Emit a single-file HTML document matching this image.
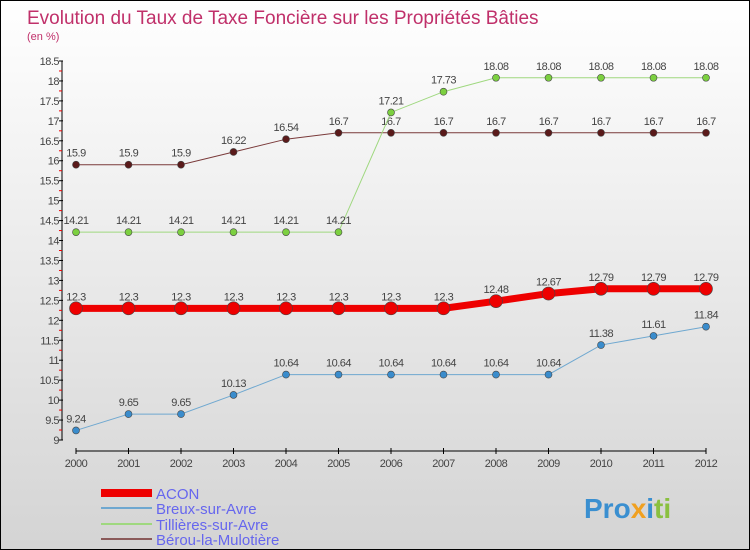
<!DOCTYPE html>
<html><head><meta charset="utf-8"><style>
body{margin:0}
#c{width:750px;height:550px;position:relative;box-sizing:border-box;border:1px solid #000;background:linear-gradient(#fff,#d4d4d4);font-family:"Liberation Sans",sans-serif;overflow:hidden}
</style></head><body>
<div id="c">
<svg id="s" width="748" height="548" style="position:absolute;left:0;top:0">
<text x="26" y="23" font-size="19" fill="#c0306a">Evolution du Taux de Taxe Foncière sur les Propriétés Bâties</text>
<text x="26" y="39" font-size="11" fill="#c0306a">(en %)</text>
<g id="ax"></g><g id="series"></g>
<g>
<rect x="100" y="488" width="51" height="8" fill="#e00"/>
<text x="155" y="498" font-size="15" fill="#6666ee">ACON</text>
<rect x="100" y="506" width="51" height="2" fill="#6fa8d0"/>
<text x="155" y="513" font-size="15" fill="#6666ee">Breux-sur-Avre</text>
<rect x="100" y="522" width="51" height="2" fill="#9fd87f"/>
<text x="155" y="529" font-size="15" fill="#6666ee">Tillières-sur-Avre</text>
<rect x="100" y="537" width="51" height="2" fill="#8a5a5a"/>
<text x="155" y="544" font-size="15" fill="#6666ee">Bérou-la-Mulotière</text>
</g>
<text x="583" y="517" font-size="28" font-weight="bold"><tspan fill="#3a8fd0">Pro</tspan><tspan fill="#f0a020">x</tspan><tspan fill="#3a8fd0">i</tspan><tspan fill="#8ac040">ti</tspan></text>
</svg>
</div>
<script>
const years=[2000,2001,2002,2003,2004,2005,2006,2007,2008,2009,2010,2011,2012];
const acon=[12.3,12.3,12.3,12.3,12.3,12.3,12.3,12.3,12.48,12.67,12.79,12.79,12.79];
const breux=[9.24,9.65,9.65,10.13,10.64,10.64,10.64,10.64,10.64,10.64,11.38,11.61,11.84];
const tillieres=[14.21,14.21,14.21,14.21,14.21,14.21,17.21,17.73,18.08,18.08,18.08,18.08,18.08];
const berou=[15.9,15.9,15.9,16.22,16.54,16.7,16.7,16.7,16.7,16.7,16.7,16.7,16.7];
const yTicks=[9,9.5,10,10.5,11,11.5,12,12.5,13,13.5,14,14.5,15,15.5,16,16.5,17,17.5,18,18.5];
const NS='http://www.w3.org/2000/svg';
const xS=i=>75+i*52.5;
const yS=v=>439-(v-9)*(379/9.5);
function mk(t,a,p){const e=document.createElementNS(NS,t);for(const k in a)e.setAttribute(k,a[k]);p.appendChild(e);return e;}
const ax=document.getElementById('ax');
const a1=mk('line',{x1:61,y1:60,x2:61,y2:439,stroke:'#000'},ax);


const a2=mk('line',{x1:75,y1:450,x2:705,y2:450,stroke:'#000'},ax);


yTicks.forEach((v,i)=>{
 const y=yS(v);
 mk('line',{x1:58,y1:y,x2:62,y2:y,stroke:'#000'},ax);
 if(i<yTicks.length-1){mk('line',{x1:58,y1:yS(v+0.25),x2:61,y2:yS(v+0.25),stroke:'#e00'},ax);}
 const t=mk('text',{x:58,y:y+4,'font-size':11,fill:'#444','text-anchor':'end','letter-spacing':'-0.5'},ax);
 t.textContent=String(v);
 
 
});
years.forEach((yr,i)=>{
 const x=xS(i);
 mk('line',{x1:x,y1:447,x2:x,y2:453,stroke:'#000'},ax);
 const t=mk('text',{x:x,y:466,'font-size':11,fill:'#444','text-anchor':'middle','letter-spacing':'-0.5'},ax);
 t.textContent=String(yr);
 
 
});
const sg=document.getElementById('series');
function series(vals,name,col,dot,w,r){
 const g=mk('g',{},sg);
 
 
 const pl=mk('polyline',{points:vals.map((v,i)=>xS(i)+','+yS(v)).join(' '),fill:'none',stroke:col,'stroke-width':w},g);
 
 
 vals.forEach((v,i)=>{
  const c=mk('circle',{cx:xS(i),cy:yS(v),r:r,fill:dot,stroke:'#444','stroke-width':0.6},g);
  
  
  const t=mk('text',{x:xS(i),y:yS(v)-8,'font-size':11,fill:'#444','text-anchor':'middle','letter-spacing':'-0.5'},g);
  t.textContent=String(v);
  
  
 });
}
series(berou,'berou','#7a3a3a','#5a1a1a',1,3.5);
series(tillieres,'tillieres','#9fd87f','#7cd040',1,3.5);
series(breux,'breux','#6fa8d0','#3a8ccc',1,3.5);
series(acon,'acon','#e00','#e00',7,6.5);
</script>
</body></html>
